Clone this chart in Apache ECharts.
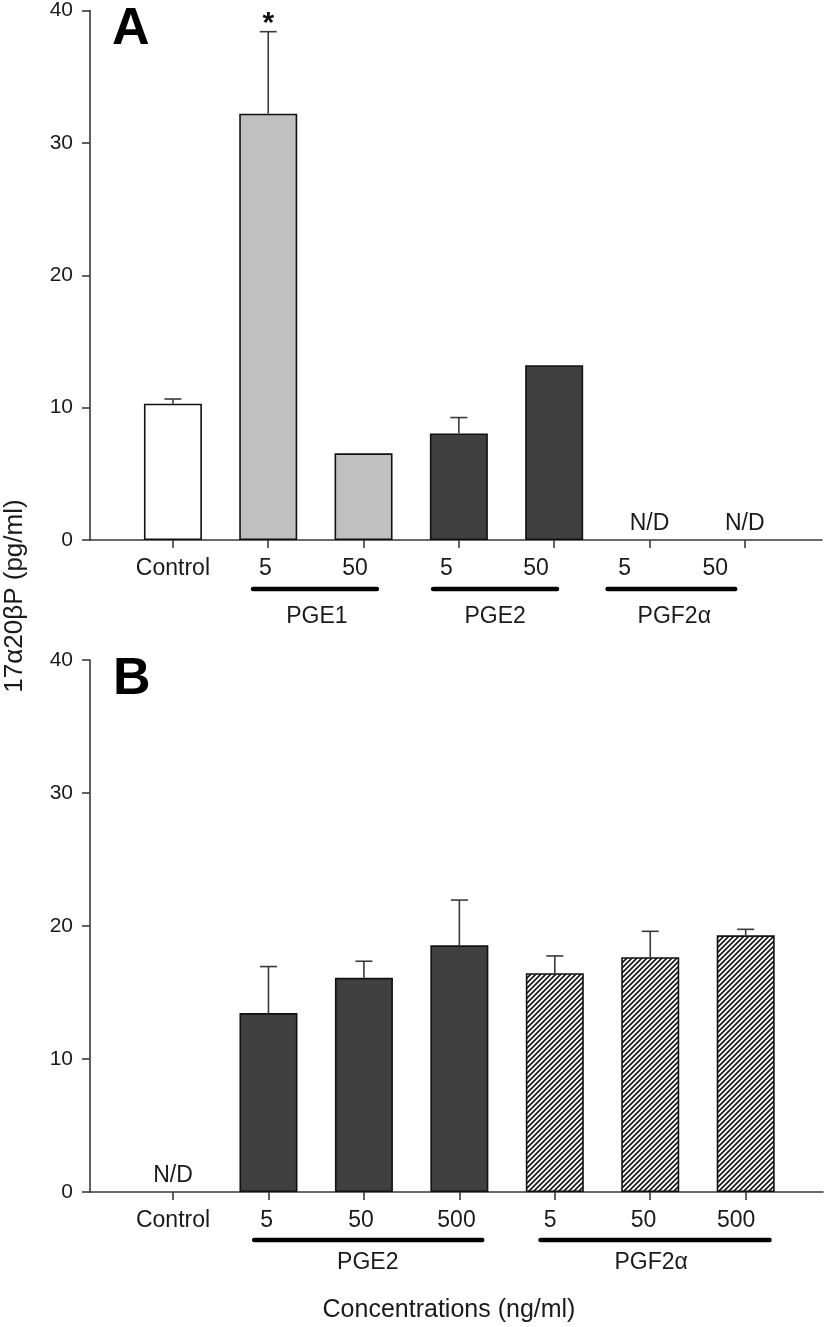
<!DOCTYPE html>
<html><head><meta charset="utf-8">
<script src="https://cdn.jsdelivr.net/npm/echarts@6/dist/echarts.min.js"></script>
<style>html,body{margin:0;padding:0;background:#fff}#c{width:827px;height:1327px}</style>
</head><body><div id="c"></div>
<script>
// ---------- DATA ----------
const yTicks = [0, 10, 20, 30, 40];
// Panel A
const categoriesA = ['Control', '5', '50', '5', '50', '5', '50'];
const treatmentA  = ['Control', 'PGE1', 'PGE1', 'PGE2', 'PGE2', 'PGF2α', 'PGF2α'];
const meansA      = [10.3, 32.2, 6.55, 8.05, 13.2, null, null];   // null = N/D
const semA        = [0.35, 6.2, 0, 1.2, 0, 0, 0];
const significantA = [false, true, false, false, false, false, false];
const groupsA     = ['PGE1', 'PGE2', 'PGF2α'];
// Panel B
const categoriesB = ['Control', '5', '50', '500', '5', '50', '500'];
const treatmentB  = ['Control', 'PGE2', 'PGE2', 'PGE2', 'PGF2α', 'PGF2α', 'PGF2α'];
const meansB      = [null, 13.45, 16.1, 18.55, 16.45, 17.65, 19.3];
const semB        = [0, 3.5, 1.25, 3.4, 1.3, 1.95, 0.45];
const significantB = [false, false, false, false, false, false, false];
const groupsB     = ['PGE2', 'PGF2α'];
const yTitle = '17α20βP (pg/ml)';
const xTitle = 'Concentrations (ng/ml)';

// ---------- LAYOUT (label placement, in category units) ----------
const layoutA = {
  labelShift: [0, -0.03, -0.09, -0.13, -0.19, -0.26, -0.31],
  groupSpan: [[0.84, 2.14], [2.73, 4.03], [4.56, 5.90]],
  groupCenter: [1.51, 3.38, 5.26],
  dyLabel: 29, dyLine: 49, dyGroup: 77
};
const layoutB = {
  labelShift: [0, -0.02, -0.03, -0.03, -0.05, -0.07, -0.1],
  groupSpan: [[0.85, 3.24], [3.85, 6.25]],
  groupCenter: [2.04, 5.01],
  dyLabel: 29, dyLine: 48, dyGroup: 71
};

// ---------- STYLE ----------
const FONT = '"Liberation Sans", Arial, sans-serif';
const TXT = '#1a1a1a';
const AX = '#3a3a3a';
function hatchPattern() {
  const s = 5, c = document.createElement('canvas');
  c.width = s; c.height = s;
  const g = c.getContext('2d');
  g.fillStyle = '#fff'; g.fillRect(0, 0, s, s);
  g.strokeStyle = '#1a1a1a'; g.lineWidth = 1.7;
  g.beginPath();
  g.moveTo(-1, s + 1); g.lineTo(s + 1, -1);
  g.moveTo(-2, 2); g.lineTo(2, -2);
  g.moveTo(s - 2, s + 2); g.lineTo(s + 2, s - 2);
  g.stroke();
  return c;
}
const fills = {
  'Control': '#ffffff',
  'PGE1': '#c0c0c0',
  'PGE2': '#404040',
  'PGF2α': { image: hatchPattern(), repeat: 'repeat' }
};

function barSeries(idx, means, treat) {
  const data = [];
  means.forEach((m, i) => {
    if (m !== null) data.push({ value: [i, m], itemStyle: { color: fills[treat[i]] } });
  });
  return {
    type: 'bar', xAxisIndex: idx, yAxisIndex: idx, barWidth: 58, data,
    itemStyle: { borderColor: '#111', borderWidth: 1.6 }, silent: true, z: 2
  };
}

function errorSeries(idx, means, sems, sig) {
  const data = [];
  means.forEach((m, i) => { if (m !== null) data.push([i, m, m + sems[i], sig[i] ? 1 : 0, sems[i]]); });
  return {
    type: 'custom', xAxisIndex: idx, yAxisIndex: idx, silent: true, z: 4, data,
    renderItem: (params, api) => {
      const x = api.value(0), m = api.value(1), t = api.value(2), sg = api.value(3), se = api.value(4);
      const p0 = api.coord([x, m]), p1 = api.coord([x, t]);
      const children = [];
      if (se > 0) {
        const st = { stroke: AX, lineWidth: 1.6 };
        children.push({ type: 'line', shape: { x1: p0[0], y1: p0[1], x2: p1[0], y2: p1[1] }, style: st });
        children.push({ type: 'line', shape: { x1: p1[0] - 8.5, y1: p1[1], x2: p1[0] + 8.5, y2: p1[1] }, style: st });
      }
      if (sg) {
        children.push({ type: 'text', x: p1[0], y: p1[1] - 8,
          style: { text: '*', fill: '#111', font: 'bold 30px ' + FONT, align: 'center', verticalAlign: 'middle' } });
      }
      return { type: 'group', children };
    }
  };
}

function ndSeries(idx, means) {
  const data = [];
  means.forEach((m, i) => { if (m === null) data.push([i, 0]); });
  return {
    type: 'custom', xAxisIndex: idx, yAxisIndex: idx, silent: true, z: 4, data,
    renderItem: (params, api) => {
      const p = api.coord([api.value(0), 0]);
      return { type: 'text', x: p[0], y: p[1] - 5,
        style: { text: 'N/D', fill: TXT, font: '23px ' + FONT, align: 'center', verticalAlign: 'bottom' } };
    }
  };
}

function labelSeries(idx, cats, lay) {
  return {
    type: 'custom', xAxisIndex: idx, yAxisIndex: idx, silent: true, z: 4,
    data: cats.map((c, i) => [i + lay.labelShift[i], 0]),
    renderItem: (params, api) => {
      const p = api.coord([api.value(0), 0]);
      return { type: 'text', x: p[0], y: p[1] + lay.dyLabel,
        style: { text: cats[params.dataIndex], fill: TXT, font: '23px ' + FONT, align: 'center', verticalAlign: 'middle' } };
    }
  };
}

function groupSeries(idx, groups, lay) {
  return {
    type: 'custom', xAxisIndex: idx, yAxisIndex: idx, silent: true, z: 4,
    data: groups.map((g, i) => [lay.groupSpan[i][0], lay.groupSpan[i][1], lay.groupCenter[i]]),
    renderItem: (params, api) => {
      const a = api.coord([api.value(0), 0]), b = api.coord([api.value(1), 0]), c = api.coord([api.value(2), 0]);
      return { type: 'group', children: [
        { type: 'line', shape: { x1: a[0], y1: a[1] + lay.dyLine, x2: b[0], y2: b[1] + lay.dyLine },
          style: { stroke: '#000', lineWidth: 4.5, lineCap: 'round' } },
        { type: 'text', x: c[0], y: c[1] + lay.dyGroup,
          style: { text: groups[params.dataIndex], fill: TXT, font: '23px ' + FONT, align: 'center', verticalAlign: 'middle' } }
      ] };
    }
  };
}

const axisLineStyle = { color: AX, width: 1.6 };
function xAxisDef(idx) {
  return {
    type: 'value', gridIndex: idx, min: -0.87, max: 6.81,
    axisLine: { show: true, onZero: false, lineStyle: axisLineStyle },
    axisTick: { show: true, inside: false, length: 8, lineStyle: axisLineStyle, customValues: [0, 1, 2, 3, 4, 5, 6] },
    axisLabel: { show: false }, splitLine: { show: false }
  };
}
function yAxisDef(idx) {
  return {
    type: 'value', gridIndex: idx, min: yTicks[0], max: yTicks[yTicks.length - 1], interval: 10,
    axisLine: { show: true, onZero: false, lineStyle: axisLineStyle },
    axisTick: { show: true, inside: false, length: 8, lineStyle: axisLineStyle },
    axisLabel: { show: true, margin: 17, color: TXT, fontSize: 21, fontFamily: FONT },
    splitLine: { show: false }
  };
}

const chart = echarts.init(document.getElementById('c'), null, { renderer: 'canvas' });
chart.setOption({
  backgroundColor: '#fff',
  animation: false,
  grid: [
    { left: 90, right: 5, top: 8, height: 532 },
    { left: 90, right: 4, top: 660, height: 532 }
  ],
  xAxis: [xAxisDef(0), xAxisDef(1)],
  yAxis: [yAxisDef(0), yAxisDef(1)],
  graphic: [
    { type: 'text', left: 112, top: 4, style: { text: 'A', fill: '#000', font: 'bold 52px ' + FONT } },
    { type: 'text', left: 113, top: 654, style: { text: 'B', fill: '#000', font: 'bold 52px ' + FONT } },
    { type: 'text', x: 15, y: 596, rotation: Math.PI / 2,
      style: { text: yTitle, fill: TXT, font: '26px ' + FONT, align: 'center', verticalAlign: 'middle' } },
    { type: 'text', x: 449, y: 1310,
      style: { text: xTitle, fill: TXT, font: '25px ' + FONT, align: 'center', verticalAlign: 'middle' } }
  ],
  series: [
    barSeries(0, meansA, treatmentA),
    errorSeries(0, meansA, semA, significantA),
    ndSeries(0, meansA),
    labelSeries(0, categoriesA, layoutA),
    groupSeries(0, groupsA, layoutA),
    barSeries(1, meansB, treatmentB),
    errorSeries(1, meansB, semB, significantB),
    ndSeries(1, meansB),
    labelSeries(1, categoriesB, layoutB),
    groupSeries(1, groupsB, layoutB)
  ]
});
</script></body></html>
